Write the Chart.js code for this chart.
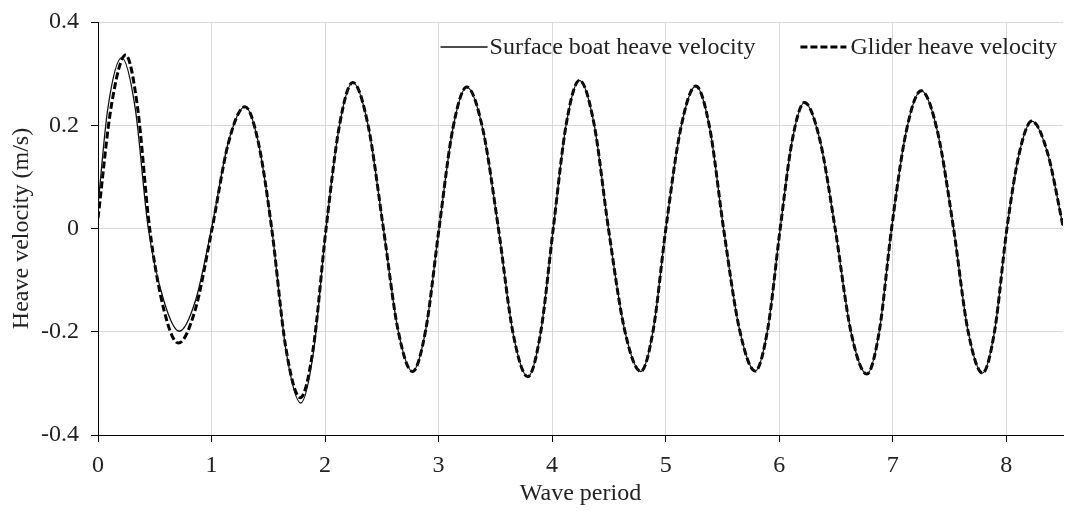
<!DOCTYPE html>
<html>
<head>
<meta charset="utf-8">
<script src="https://cdn.jsdelivr.net/npm/chart.js@4.4.0/dist/chart.umd.min.js"></script>
<style>
  html, body { margin: 0; padding: 0; background: #fff; }
</style>
</head>
<body>
<canvas id="chart" width="1067" height="511"></canvas>
<script>
// values (wave period, heave velocity m/s)
const surfaceT = [0, 0.085, 0.209, 0.327, 0.443, 0.58, 0.716, 0.858, 1.0, 1.148, 1.295, 1.412, 1.53, 1.658, 1.786, 1.898,
  2.009, 2.127, 2.244, 2.379, 2.514, 2.642, 2.77, 2.887, 3.004, 3.126, 3.248, 3.388, 3.527, 3.656, 3.786, 3.898,
  4.01, 4.125, 4.241, 4.369, 4.496, 4.638, 4.781, 4.891, 5.002, 5.134, 5.266, 5.388, 5.51, 5.65, 5.789, 5.899,
  6.009, 6.116, 6.223, 6.358, 6.493, 6.632, 6.772, 6.881, 6.99, 7.12, 7.251, 7.393, 7.536, 7.663, 7.791, 7.898,
  8.006, 8.116, 8.226, 8.363, 8.5];
const surfaceV = [0.045, 0.23, 0.331, 0.234, 0, -0.14, -0.199, -0.14, 0, 0.167, 0.236, 0.167, 0, -0.239, -0.338, -0.239,
  0, 0.2, 0.283, 0.2, 0, -0.196, -0.277, -0.196, 0, 0.194, 0.274, 0.194, 0, -0.203, -0.287, -0.203,
  0, 0.203, 0.287, 0.203, 0, -0.196, -0.277, -0.196, 0, 0.195, 0.276, 0.195, 0, -0.195, -0.276, -0.195,
  0, 0.172, 0.244, 0.172, 0, -0.2, -0.282, -0.2, 0, 0.189, 0.267, 0.189, 0, -0.198, -0.28, -0.198,
  0, 0.147, 0.208, 0.147, 0.005];

const gliderT = [0, 0.117, 0.244, 0.347, 0.455, 0.58, 0.708, 0.857, 1.005, 1.15, 1.295, 1.412, 1.53, 1.655, 1.782, 1.896,
  2.009, 2.127, 2.244, 2.379, 2.514, 2.642, 2.77, 2.887, 3.004, 3.126, 3.248, 3.388, 3.527, 3.656, 3.786, 3.898,
  4.01, 4.125, 4.241, 4.369, 4.496, 4.638, 4.781, 4.891, 5.002, 5.134, 5.266, 5.388, 5.51, 5.65, 5.789, 5.899,
  6.009, 6.116, 6.223, 6.358, 6.493, 6.632, 6.772, 6.881, 6.99, 7.12, 7.251, 7.393, 7.536, 7.663, 7.791, 7.898,
  8.006, 8.116, 8.226, 8.363, 8.5];
const gliderV = [0.02, 0.237, 0.336, 0.237, 0, -0.157, -0.222, -0.157, 0, 0.167, 0.236, 0.167, 0, -0.232, -0.328, -0.232,
  0, 0.2, 0.283, 0.2, 0, -0.196, -0.277, -0.196, 0, 0.194, 0.274, 0.194, 0, -0.203, -0.287, -0.203,
  0, 0.203, 0.287, 0.203, 0, -0.196, -0.277, -0.196, 0, 0.195, 0.276, 0.195, 0, -0.195, -0.276, -0.195,
  0, 0.172, 0.244, 0.172, 0, -0.2, -0.282, -0.2, 0, 0.189, 0.267, 0.189, 0, -0.198, -0.28, -0.198,
  0, 0.147, 0.208, 0.147, 0.005];

const xTicks = [0, 1, 2, 3, 4, 5, 6, 7, 8];
const yTicks = [-0.4, -0.2, 0, 0.2, 0.4];
const yTickLabels = ['-0.4', '-0.2', '0', '0.2', '0.4'];

const serif = '"Liberation Serif", "Times New Roman", serif';
const textColor = '#222';
const gridColor = '#d9d9d9';

// legend drawn inside the plot, with line samples like the original
const lineLegend = {
  id: 'lineLegend',
  afterDatasetsDraw(chart) {
    const ctx = chart.ctx;
    const area = chart.chartArea;
    const ds = chart.data.datasets;
    ctx.save();
    ctx.font = '24px ' + serif;
    ctx.textBaseline = 'middle';
    ctx.fillStyle = textColor;
    const y = area.top + 25;
    const w1 = ctx.measureText(ds[0].label).width;
    const w2 = ctx.measureText(ds[1].label).width;
    const text2 = area.right - 6 - w2;
    const s2 = [text2 - 50, text2 - 4];
    const text1 = s2[0] - 45 - w1;
    const s1 = [text1 - 49, text1 - 2];

    ctx.strokeStyle = ds[0].borderColor;
    ctx.lineWidth = ds[0].borderWidth;
    ctx.setLineDash([]);
    ctx.beginPath(); ctx.moveTo(s1[0], y); ctx.lineTo(s1[1], y); ctx.stroke();
    ctx.fillText(ds[0].label, text1, y + 1);

    ctx.strokeStyle = ds[1].borderColor;
    ctx.lineWidth = ds[1].borderWidth;
    ctx.setLineDash(ds[1].borderDash);
    ctx.beginPath(); ctx.moveTo(s2[0], y); ctx.lineTo(s2[1], y); ctx.stroke();
    ctx.setLineDash([]);
    ctx.fillText(ds[1].label, text2, y + 1);
    ctx.restore();
  }
};

new Chart(document.getElementById('chart'), {
  type: 'line',
  data: {
    datasets: [
      {
        label: 'Surface boat heave velocity',
        data: surfaceT.map((t, i) => ({ x: t, y: surfaceV[i] })),
        borderColor: '#111',
        borderWidth: 1.3,
        cubicInterpolationMode: 'monotone',
        pointRadius: 0,
        fill: false
      },
      {
        label: 'Glider heave velocity',
        data: gliderT.map((t, i) => ({ x: t, y: gliderV[i] })),
        borderColor: '#000',
        borderWidth: 3,
        borderDash: [7, 3],
        cubicInterpolationMode: 'monotone',
        pointRadius: 0,
        fill: false
      }
    ]
  },
  options: {
    responsive: false,
    animation: false,
    layout: { padding: { top: 22, right: 4, left: 0, bottom: 0 } },
    plugins: { legend: { display: false }, tooltip: { enabled: false } },
    scales: {
      x: {
        type: 'linear',
        min: 0,
        max: 8.5,
        afterBuildTicks: axis => { axis.ticks = xTicks.map(v => ({ value: v })); },
        afterFit: axis => { axis.height = 76; axis.paddingLeft = 0; axis.paddingRight = 0; },
        grid: { color: gridColor, tickColor: '#000', tickLength: 7 },
        border: { color: '#000', width: 1 },
        ticks: { font: { family: serif, size: 24 }, color: textColor, padding: 9, maxRotation: 0, autoSkip: false },
        title: { display: true, text: 'Wave period', font: { family: serif, size: 24 }, color: textColor, padding: { top: 0, bottom: 3 } }
      },
      y: {
        min: -0.4,
        max: 0.4,
        afterBuildTicks: axis => { axis.ticks = yTicks.map(v => ({ value: v })); },
        afterFit: axis => { axis.width = 98; axis.paddingTop = 0; axis.paddingBottom = 0; },
        grid: { color: gridColor, tickColor: '#000', tickLength: 7 },
        border: { color: '#000', width: 1 },
        ticks: {
          font: { family: serif, size: 24 }, color: textColor, padding: 12,
          callback: v => yTickLabels[yTicks.indexOf(v)]
        },
        title: { display: true, text: 'Heave velocity (m/s)', font: { family: serif, size: 24 }, color: textColor, padding: { top: 7, bottom: 0 } }
      }
    }
  },
  plugins: [lineLegend]
});
</script>
</body>
</html>
